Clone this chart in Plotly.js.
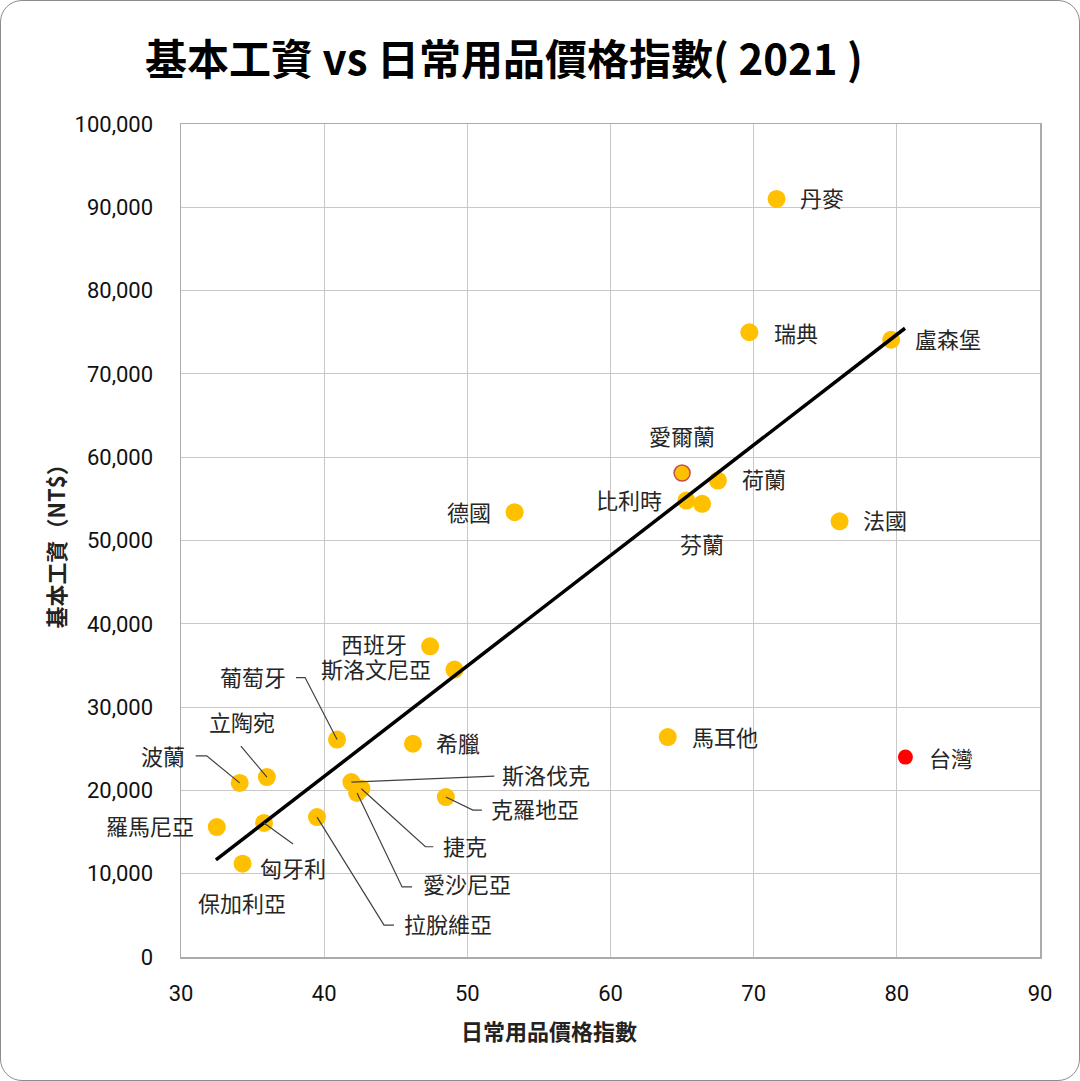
<!DOCTYPE html>
<html>
<head>
<meta charset="utf-8">
<script src="https://cdn.plot.ly/plotly-3.0.1.min.js"></script>
<style>
  html, body { margin: 0; padding: 0; background: #fff; }
  #wrap { position: relative; width: 1080px; height: 1081px; }
  #graph { position: absolute; left: 0; top: 0; width: 1080px; height: 1081px; }
  #frame {
    position: absolute; left: 0; top: 0; width: 1080px; height: 1081px;
    box-sizing: border-box; border: 1.5px solid #8c8c8c; border-radius: 22px;
    pointer-events: none;
  }
</style>
</head>
<body>
<div id="wrap">
  <div id="graph"></div>
  <div id="frame"></div>
</div>
<script>
// values
const countries = ['丹麥', '瑞典', '盧森堡', '愛爾蘭', '荷蘭', '比利時', '芬蘭', '法國', '德國',
    '西班牙', '斯洛文尼亞', '葡萄牙', '希臘', '馬耳他', '台灣', '立陶宛', '波蘭', '斯洛伐克',
    '捷克', '愛沙尼亞', '克羅地亞', '羅馬尼亞', '匈牙利', '拉脫維亞', '保加利亞'];
const priceIndex = [71.6, 69.7, 79.6, 65.0, 67.5, 65.3, 66.4, 76.0, 53.3,
    47.4, 49.1, 40.9, 46.2, 64.0, 80.6, 36.0, 34.1, 41.9,
    42.6, 42.3, 48.5, 32.5, 35.8, 39.5, 34.3];
const minWage = [91000, 75000, 74100, 58100, 57200, 54800, 54400, 52300, 53400,
    37300, 34500, 26100, 25600, 26400, 24000, 21600, 20900, 21000,
    20200, 19700, 19200, 15600, 16100, 16800, 11200];

// trend line ends as drawn in the picture
const trendX = [32.44, 80.57];
const trendY = [11650, 75480];

const xTicks = [30, 40, 50, 60, 70, 80, 90];
const yTicks = [0, 10000, 20000, 30000, 40000, 50000, 60000, 70000, 80000, 90000, 100000];

const TITLE = '基本工資 vs 日常用品價格指數( 2021 )';
const X_TITLE = '日常用品價格指數';
const Y_TITLE = '基本工資（NT$）';

const YELLOW = '#FFC000';
const CJK = '"Noto Sans CJK TC", "Noto Sans CJK SC", sans-serif';
const NUM = 'Roboto, "Noto Sans", sans-serif';
const LIFT = 2.5; // text sits a little high of its point in the picture

// label placement: [dx, dy (up), anchor, leader path in px or null]
const labelPos = {
    '丹麥': [22, -1, 'left'],
    '瑞典': [24, -2, 'left'],
    '盧森堡': [23, -1, 'left'],
    '愛爾蘭': [0, 36, 'center'],
    '荷蘭': [23, 0, 'left'],
    '比利時': [-23, -1, 'right'],
    '芬蘭': [0, -42, 'center'],
    '法國': [22, 0, 'left'],
    '德國': [-23, -1, 'right'],
    '西班牙': [-22, 1, 'right'],
    '斯洛文尼亞': [-22, -1, 'right'],
    '葡萄牙': [-50, 61, 'right', 'M0,0L-32,62L-41,62'],
    '希臘': [22, -1, 'left'],
    '馬耳他': [23, -1, 'left'],
    '台灣': [23, -2, 'left'],
    '立陶宛': [-25, 54, 'center', 'M0,0L-26,31'],
    '波蘭': [-54, 25, 'right', 'M0,0L-33,27L-44,27'],
    '斯洛伐克': [150, 6, 'left', 'M0,0L143,6'],
    '捷克': [81, -59, 'left', 'M0,0L64,-58L72,-58'],
    '愛沙尼亞': [65, -93, 'left', 'M0,0L45,-94L55,-94'],
    '克羅地亞': [44, -13, 'left', 'M0,0L27,-13L36,-13'],
    '羅馬尼亞': [-22, 0, 'right'],
    '匈牙利': [29, -47, 'center', 'M0,0L29,-21'],
    '拉脫維亞': [86, -108, 'left', 'M0,0L67,-108L77,-108'],
    '保加利亞': [-1, -41, 'center'],
};

function markerColor(name) {
    return name === '台灣' ? '#FF0000' : YELLOW;
}
function markerSize(name) {
    if (name === '台灣') return 15;
    if (name === '愛爾蘭') return 16;
    return 18;
}
function markerLine(name) {
    return name === '愛爾蘭' ? '#C0504D' : 'rgba(0,0,0,0)';
}

const points = {
    x: priceIndex,
    y: minWage,
    text: countries,
    mode: 'markers',
    type: 'scatter',
    hoverinfo: 'text',
    marker: {
        color: countries.map(markerColor),
        size: countries.map(markerSize),
        opacity: 1,
        line: {
            color: countries.map(markerLine),
            width: countries.map(c => c === '愛爾蘭' ? 1.5 : 0)
        }
    }
};

const trend = {
    x: trendX,
    y: trendY,
    mode: 'lines',
    type: 'scatter',
    hoverinfo: 'skip',
    line: {color: '#000', width: 3.5}
};

const annotations = countries.map((c, i) => {
    const p = labelPos[c];
    return {
        x: priceIndex[i], y: minWage[i], xref: 'x', yref: 'y',
        text: c, showarrow: false,
        xshift: p[0], yshift: p[1] + LIFT,
        xanchor: p[2], yanchor: 'middle', borderpad: 0,
        font: {family: CJK, size: 22, color: '#262626'}
    };
});
annotations.push({
    x: 0.4284, y: -0.0876, xref: 'paper', yref: 'paper',
    text: X_TITLE, showarrow: false, xanchor: 'center', yanchor: 'middle',
    font: {family: CJK, size: 22, color: '#222', weight: 'bold'}
});
annotations.push({
    x: -0.1467, y: 0.5, xref: 'paper', yref: 'paper',
    text: Y_TITLE, showarrow: false, textangle: -90,
    xanchor: 'center', yanchor: 'middle',
    font: {family: CJK, size: 22, color: '#222', weight: 'bold'}
});

// leader lines, anchored at the points and drawn in pixels
const shapes = [];
countries.forEach((c, i) => {
    const p = labelPos[c];
    if (!p[3]) return;
    shapes.push({
        type: 'path', xref: 'x', yref: 'y',
        xsizemode: 'pixel', ysizemode: 'pixel',
        xanchor: priceIndex[i], yanchor: minWage[i],
        path: p[3],
        line: {color: '#404040', width: 1.2}
    });
});

const layout = {
    width: 1080,
    height: 1081,
    margin: {l: 181, r: 40, t: 124, b: 124, pad: 0},
    paper_bgcolor: '#fff',
    plot_bgcolor: '#fff',
    showlegend: false,
    title: {
        text: TITLE,
        x: 145 / 1080, xanchor: 'left', xref: 'container',
        y: 1 - 60 / 1081, yanchor: 'middle', yref: 'container',
        font: {family: CJK, size: 42, color: '#000', weight: 'bold'}
    },
    xaxis: {
        range: [30, 90],
        tickvals: xTicks,
        ticks: '',
        ticklabelstandoff: 16,
        showgrid: true,
        gridcolor: '#c8c8c8',
        gridwidth: 1,
        showline: true,
        linecolor: '#ababab',
        linewidth: 1.5,
        mirror: true,
        zeroline: false,
        fixedrange: true,
        tickfont: {family: NUM, size: 22, color: '#111'}
    },
    yaxis: {
        range: [0, 100000],
        tickvals: yTicks,
        tickformat: ',d',
        ticks: '',
        ticklabelstandoff: 22,
        showgrid: true,
        gridcolor: '#c8c8c8',
        gridwidth: 1,
        showline: true,
        linecolor: '#ababab',
        linewidth: 1.5,
        mirror: true,
        zeroline: false,
        fixedrange: true,
        tickfont: {family: NUM, size: 22, color: '#111'}
    },
    annotations: annotations,
    shapes: shapes
};

Plotly.newPlot('graph', [points, trend], layout, {displayModeBar: false, staticPlot: true});
</script>
</body>
</html>
